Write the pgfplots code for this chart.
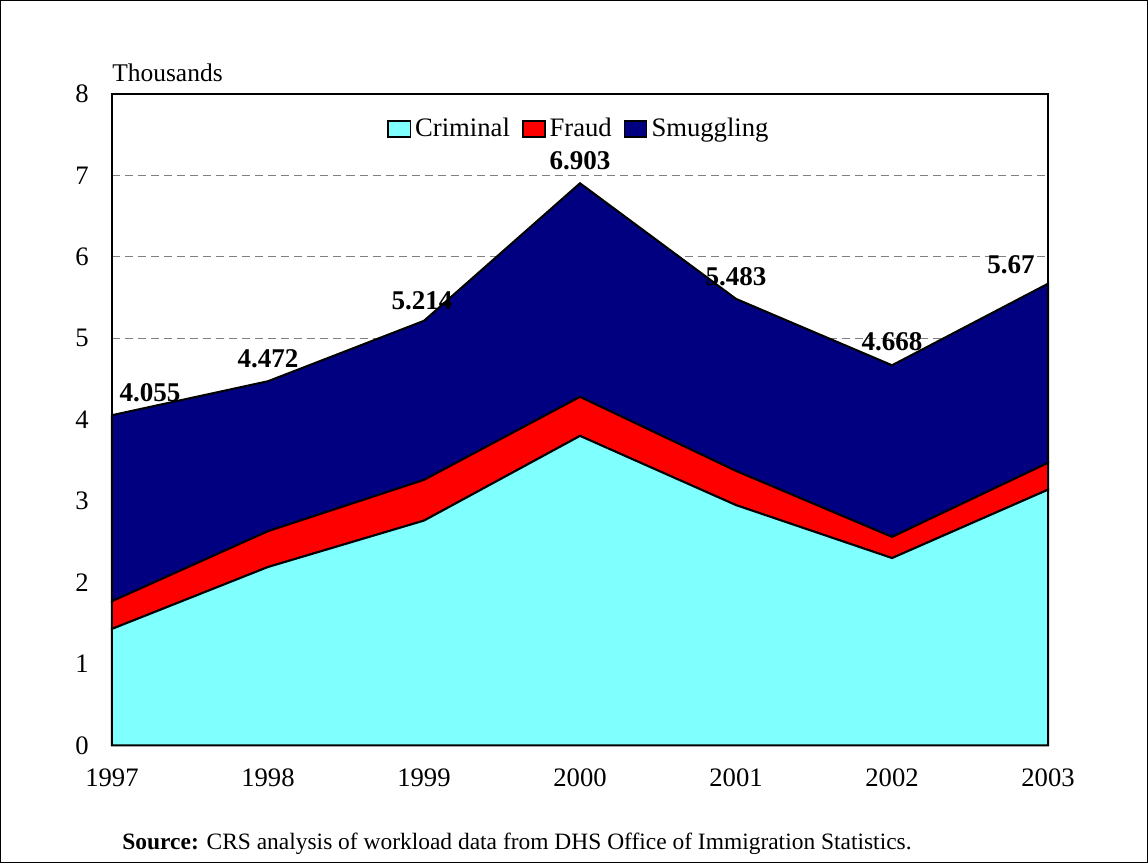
\documentclass[border=0pt]{standalone}
\usepackage{pgfplots}
\pgfplotsset{compat=1.18}
\usepackage{pgfplotstable}
\usepackage{fontspec}
\setmainfont{Liberation Serif}
\definecolor{crim}{HTML}{80FFFF}
\definecolor{frd}{HTML}{FF0000}
\definecolor{smug}{HTML}{000080}
\pgfplotstableread{
x y
1997 1.43
1998 2.19
1999 2.76
2000 3.80
2001 2.95
2002 2.30
2003 3.14
}\crimtab
\pgfplotstableread{
x y
1997 0.34
1998 0.44
1999 0.50
2000 0.48
2001 0.42
2002 0.26
2003 0.33
}\fraudtab
\pgfplotstableread{
x y lab dx dy
1997 2.285 4.055 19 11
1998 1.842 4.472 0 11
1999 1.954 5.214 -1 10
2000 2.623 6.903 0 11
2001 2.113 5.483 0 11
2002 2.108 4.668 0 11.5
2003 2.200 5.67 -18.5 9.5
}\smugtab
\newcommand{\fs}{\fontsize{13.3}{16}\selectfont}
\begin{document}
\fs
\begin{tikzpicture}
\begin{axis}[
  scale only axis,
  clip=false,
  width=467pt, height=325pt,
  xmin=1997, xmax=2003, ymin=0, ymax=8,
  xtick={1997,1998,1999,2000,2001,2002,2003},
  ytick={0,1,2,3,4,5,6,7,8},
  major tick length=0pt,
  /pgf/number format/assume math mode=true,
  xticklabel style={/pgf/number format/1000 sep=, font=\fs, yshift=-7pt},
  yticklabel style={font=\fs, xshift=-7pt},
  ymajorgrids,
  grid style={dash pattern=on 4pt off 2.5pt, gray, line width=0.6pt},
  axis line style={line width=0.9pt},
  stack plots=y,
  area legend,
  legend columns=-1,
  legend style={draw=none, fill=none, at={(0.5,0.946)}, anchor=center,
    font=\fs, inner sep=0pt,
    /tikz/every even column/.append style={column sep=4pt}},
  legend image code/.code={\draw[#1, draw=black, line width=0.8pt] (0pt,-3.8pt) rectangle (11pt,4pt);},
  every node near coord/.append style={font=\bfseries\fontsize{13.5}{16}\selectfont, anchor=center},
]
\addplot[draw=black, line width=1pt, fill=crim] table[x=x,y=y] {\crimtab} \closedcycle;
\addlegendentry{Criminal}
\addplot[draw=black, line width=1pt, fill=frd] table[x=x,y=y] {\fraudtab} \closedcycle;
\addlegendentry{Fraud}
\addplot[draw=black, line width=1pt, fill=smug,
  nodes near coords, point meta=explicit symbolic,
  visualization depends on={\thisrow{dx} \as \dxv},
  visualization depends on={\thisrow{dy} \as \dyv},
  every node near coord/.append style={xshift=\dxv pt, yshift=\dyv pt, text=black}
  ] table[x=x,y=y,meta=lab] {\smugtab} \closedcycle;
\addlegendentry{Smuggling}
\draw[line width=0.9pt] (rel axis cs:0,0) rectangle (rel axis cs:1,1);
\node[anchor=base west, inner sep=0pt, font=\fontsize{12.7}{15}\selectfont] at ([yshift=6pt]rel axis cs:0,1) {Thousands};
\node[anchor=base west, inner sep=0pt, font=\fontsize{11.7}{14}\selectfont] at ([xshift=5pt, yshift=-52pt]rel axis cs:0,0) {\textbf{Source:} CRS analysis of workload data from DHS Office of Immigration Statistics.};
\end{axis}
\draw[line width=0.7pt] (-55.5pt,-58.5pt) rectangle (516.5pt,371.5pt);
\end{tikzpicture}
\end{document}
